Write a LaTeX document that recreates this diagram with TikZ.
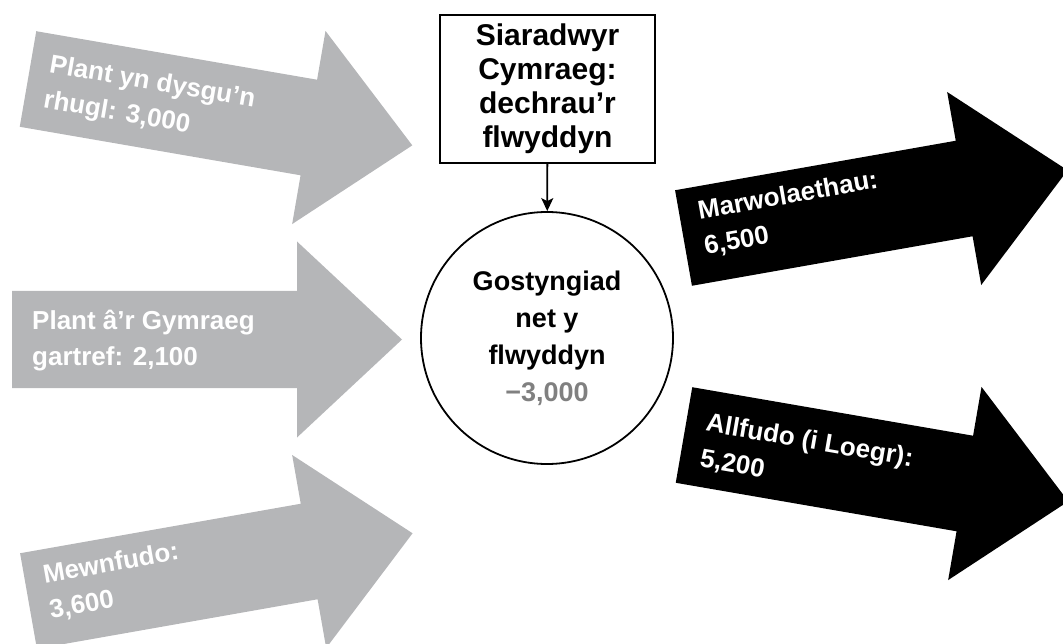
\documentclass[tikz,border=0pt]{standalone}
\usepackage{fontspec}
\setmainfont{Liberation Sans}
\usetikzlibrary{arrows.meta}
\definecolor{arrowgrey}{RGB}{181,182,184}
\definecolor{numgrey}{RGB}{128,128,128}
\tikzset{
  bigarrow/.pic={
    \fill[pic actions] (0,-48.5) -- (285,-48.5) -- (285,-98) -- (390,0) -- (285,98) -- (285,48.5) -- (0,48.5) -- cycle;
  },
  arrowlabel/.style={text=white, anchor=west, align=left, inner sep=0pt, transform shape,
    font=\fontsize{26}{36}\selectfont\bfseries},
  startbox/.style={draw, line width=1.8pt, minimum width=215pt, minimum height=148pt, align=center,
    inner sep=0pt, font=\fontsize{30}{34}\selectfont\bfseries},
  netcircle/.style={draw, circle, line width=1.8pt, minimum size=252pt, align=center, inner sep=0pt,
    font=\fontsize{27}{37}\selectfont\bfseries},
  link/.style={-{Stealth[length=13pt,width=12pt,inset=3pt]}, line width=1.8pt}
}
\begin{document}
\begin{tikzpicture}[x=1pt,y=-1pt]
\useasboundingbox (0,0) rectangle (1063,644);
\clip (0,0) rectangle (1063,644);
% incoming (grey) arrows
\begin{scope}[shift={(28,79)},rotate=-9.8]
  \pic[fill=arrowgrey, transform shape] {bigarrow};
  \node[arrowlabel] (inA) at (19,1) {Plant yn dysgu’n\\rhugl: 3,000};
\end{scope}
\begin{scope}[shift={(12,339.5)}]
  \pic[fill=arrowgrey, transform shape] {bigarrow};
  \node[arrowlabel] (inB) at (20,1) {Plant â’r Gymraeg\\gartref: 2,100};
\end{scope}
\begin{scope}[shift={(28.5,601)},rotate=10]
  \pic[fill=arrowgrey, transform shape] {bigarrow};
  \node[arrowlabel] (inC) at (19,-4) {Mewnfudo:\\3,600};
\end{scope}
% outgoing (black) arrows
\begin{scope}[shift={(683.5,238)},rotate=10]
  \pic[fill=black, transform shape] {bigarrow};
  \node[arrowlabel] (outA) at (19,-5) {Marwolaethau:\\6,500};
\end{scope}
\begin{scope}[shift={(684,435)},rotate=-9.8]
  \pic[fill=black, transform shape] {bigarrow};
  \node[arrowlabel] (outB) at (20,3) {Allfudo (i Loegr):\\5,200};
\end{scope}
% centre
\node[startbox] (start) at (547.5,89) {Siaradwyr\\Cymraeg:\\dechrau’r\\flwyddyn};
\node[netcircle] (net) at (547,338) {Gostyngiad\\net y\\flwyddyn\\{\color{numgrey}−3,000}};
\draw[link] (start) -- (net);
\end{tikzpicture}
\end{document}
